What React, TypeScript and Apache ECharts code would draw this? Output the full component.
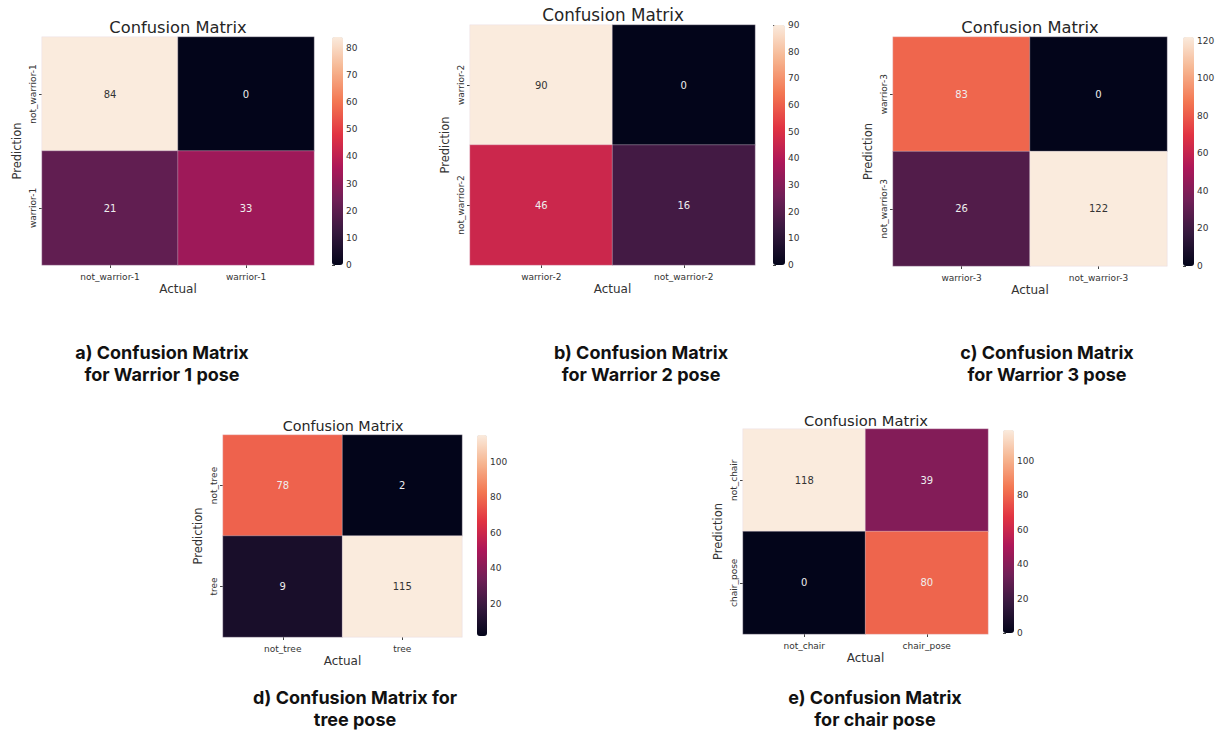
import React, { useEffect, useRef } from "react";
import * as echarts from "echarts";

// ---- data ----
const labelsA = ["not_warrior-1", "warrior-1"];
const valuesA = [[84, 0], [21, 33]];
const labelsB = ["warrior-2", "not_warrior-2"];
const valuesB = [[90, 0], [46, 16]];
const labelsC = ["warrior-3", "not_warrior-3"];
const valuesC = [[83, 0], [26, 122]];
const labelsD = ["not_tree", "tree"];
const valuesD = [[78, 2], [9, 115]];
const labelsE = ["not_chair", "chair_pose"];
const valuesE = [[118, 39], [0, 80]];

const ticksA = [0, 10, 20, 30, 40, 50, 60, 70, 80];
const ticksB = [0, 10, 20, 30, 40, 50, 60, 70, 80, 90];
const ticksC = [0, 20, 40, 60, 80, 100, 120];
const ticksD = [20, 40, 60, 80, 100];
const ticksE = [0, 20, 40, 60, 80, 100];

const captions = [
  ["a) Confusion Matrix", "for Warrior 1 pose"],
  ["b) Confusion Matrix", "for Warrior 2 pose"],
  ["c) Confusion Matrix", "for Warrior 3 pose"],
  ["d) Confusion Matrix for", "tree pose"],
  ["e) Confusion Matrix", "for chair pose"],
];

const ROCKET = ["#03051a", "#35193e", "#701f57", "#ad1759", "#e13342", "#f37651", "#f6b48f", "#faebdd"];

const panels = [
  { labels: labelsA, values: valuesA, ticks: ticksA, grid: { left: 42, top: 37, width: 272, height: 228 }, cb: { left: 332, top: 37, width: 11, height: 228 }, title: [178, 27, 16.3], cap: [162, 352] },
  { labels: labelsB, values: valuesB, ticks: ticksB, grid: { left: 470, top: 25, width: 285, height: 240 }, cb: { left: 773, top: 25, width: 12, height: 240 }, title: [613, 15, 16.8], cap: [641, 352] },
  { labels: labelsC, values: valuesC, ticks: ticksC, grid: { left: 893, top: 37, width: 274, height: 229 }, cb: { left: 1183, top: 37, width: 11, height: 229 }, title: [1030, 27, 16.3], cap: [1047, 352] },
  { labels: labelsD, values: valuesD, ticks: ticksD, grid: { left: 223, top: 435, width: 239, height: 202 }, cb: { left: 477, top: 435, width: 10, height: 201 }, title: [343, 426, 14.3], cap: [355, 697] },
  { labels: labelsE, values: valuesE, ticks: ticksE, grid: { left: 743, top: 429, width: 245, height: 205 }, cb: { left: 1003, top: 430, width: 11, height: 203 }, title: [866, 420, 14.7], cap: [875, 697] },
];

const FONT = "DejaVu Sans";

export default function App() {
  const ref = useRef<HTMLDivElement>(null);
  useEffect(() => {
    if (!ref.current) return;
    const chart = echarts.init(ref.current, null, { renderer: "svg" });
    const grids: any[] = [];
    const xAxes: any[] = [];
    const yAxes: any[] = [];
    const series: any[] = [];
    const visualMaps: any[] = [];
    const graphics: any[] = [];

    panels.forEach((p, i) => {
      const flat = p.values.flat();
      const vmin = Math.min(...flat);
      const vmax = Math.max(...flat);
      grids.push({ ...p.grid, containLabel: false });
      xAxes.push({
        type: "category", gridIndex: i, data: p.labels, position: "bottom",
        axisLine: { show: false },
        axisTick: { show: true, alignWithLabel: true, length: 3, lineStyle: { color: "#444" } },
        axisLabel: { fontFamily: FONT, fontSize: 9, color: "#333", margin: 7 },
        splitLine: { show: false },
        name: "Actual", nameLocation: "middle", nameGap: 18,
        nameTextStyle: { fontFamily: FONT, fontSize: 12, color: "#333" },
      });
      yAxes.push({
        type: "category", gridIndex: i, data: p.labels, inverse: true,
        axisLine: { show: false },
        axisTick: { show: true, alignWithLabel: true, length: 3, lineStyle: { color: "#444" } },
        axisLabel: { fontFamily: FONT, fontSize: 9, color: "#333", rotate: 90, margin: 5 },
        splitLine: { show: false },
        name: "Prediction", nameLocation: "middle", nameGap: 19, nameRotate: 90,
        nameTextStyle: { fontFamily: FONT, fontSize: 11.5, color: "#333" },
      });
      const data: any[] = [];
      p.values.forEach((row, r) => row.forEach((v, c) => {
        const light = (v - vmin) / (vmax - vmin) > 0.8;
        data.push({ value: [c, r, v], label: { color: light ? "#333333" : "#eeeeee" } });
      }));
      series.push({
        type: "heatmap", xAxisIndex: i, yAxisIndex: i, data,
        label: { show: true, fontFamily: FONT, fontSize: 10, formatter: (d: any) => String(d.value[2]) },
        itemStyle: { borderWidth: 0.5, borderColor: "rgba(225,215,225,0.7)" },
        emphasis: { disabled: true },
      });
      visualMaps.push({
        type: "continuous", seriesIndex: i, min: vmin, max: vmax, calculable: false, hoverLink: false,
        orient: "vertical", left: p.cb.left, top: p.cb.top, itemWidth: p.cb.width, itemHeight: p.cb.height,
        padding: 0, text: null, showLabel: false,
        inRange: { color: ROCKET },
      });
    });

    panels.forEach((p, i) => {
      const flat = p.values.flat();
      const vmin = Math.min(...flat);
      const vmax = Math.max(...flat);
      const gi = panels.length + i;
      grids.push({ ...p.cb, containLabel: false });
      xAxes.push({ type: "value", gridIndex: gi, show: false, min: 0, max: 1 });
      yAxes.push({
        type: "value", gridIndex: gi, position: "right", min: vmin, max: vmax,
        axisLine: { show: false },
        splitLine: { show: false },
        axisTick: { show: true, length: 3, lineStyle: { color: "#444" }, customValues: p.ticks },
        axisLabel: { fontFamily: FONT, fontSize: 9, color: "#333", margin: 3, customValues: p.ticks },
      });
      graphics.push({
        type: "text", x: p.title[0], y: p.title[1],
        style: { text: "Confusion Matrix", fontFamily: FONT, fontSize: p.title[2], fill: "#262626", textAlign: "center", textVerticalAlign: "middle" },
      });
      captions[i].forEach((line, k) => {
        graphics.push({
          type: "text", x: p.cap[0], y: p.cap[1] + k * 22,
          style: {
            text: line, fontFamily: "Inter", fontWeight: "bold", fontSize: 18,
            fill: "#111", textAlign: "center", textVerticalAlign: "middle",
          },
        });
      });
    });

    chart.setOption({
      animation: false,
      backgroundColor: "#ffffff",
      grid: grids,
      xAxis: xAxes,
      yAxis: yAxes,
      visualMap: visualMaps,
      series,
      graphic: graphics,
    });
    return () => chart.dispose();
  }, []);
  return <div ref={ref} style={{ position: "fixed", left: 0, top: 0, width: 1231, height: 733 }} />;
}
